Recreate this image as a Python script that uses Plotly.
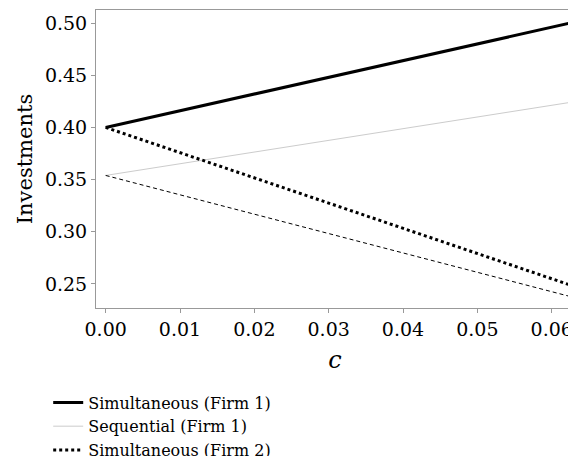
import plotly.graph_objects as go

# values
c = [0.0, 0.0625]
sim_f1 = [0.400, 0.500]
seq_f1 = [0.354, 0.424]
sim_f2 = [0.400, 0.249]
seq_f2 = [0.354, 0.238]
x_ticks = [0.00, 0.01, 0.02, 0.03, 0.04, 0.05, 0.06]
y_ticks = [0.25, 0.30, 0.35, 0.40, 0.45, 0.50]

FONT = "DejaVu Serif"

fig = go.Figure()
fig.add_trace(go.Scatter(x=c, y=sim_f1, mode="lines", name="Simultaneous (Firm 1)",
                         line=dict(color="black", width=3)))
fig.add_trace(go.Scatter(x=c, y=seq_f1, mode="lines", name="Sequential (Firm 1)",
                         line=dict(color="#cccccc", width=1)))
fig.add_trace(go.Scatter(x=c, y=sim_f2, mode="lines", name="Simultaneous (Firm 2)",
                         line=dict(color="black", width=3, dash="dot")))
fig.add_trace(go.Scatter(x=c, y=seq_f2, mode="lines", name="Sequential (Firm 2)",
                         line=dict(color="black", width=1, dash="4px,3px")))

axis = dict(showgrid=False, zeroline=False, showline=True, mirror=True,
            linecolor="#999999", linewidth=1, ticks="outside", ticklen=4,
            tickcolor="#999999", tickfont=dict(size=19, family=FONT, color="black"))
fig.update_xaxes(axis, range=[-0.0013, 0.063], tickvals=x_ticks, tickformat=".2f",
                 automargin=False,
                 title=dict(text="<i>c</i>", font=dict(size=24, family=FONT), standoff=12))
fig.update_yaxes(axis, range=[0.227, 0.5125], tickvals=y_ticks, tickformat=".2f",
                 automargin=False,
                 title=dict(text="Investments", font=dict(size=21, family=FONT), standoff=6))

fig.update_layout(
    width=576, height=456, template="none",
    paper_bgcolor="white", plot_bgcolor="white",
    margin=dict(l=88, r=10, t=2, b=156, autoexpand=False),
    font=dict(family=FONT, color="black"),
    legend=dict(orientation="h", x=0.0, xanchor="left", y=-0.26, yanchor="top",
                xref="paper", entrywidth=265, font=dict(size=16, family=FONT),
                tracegroupgap=0),
)
fig.update_layout(legend_x=-0.1)
fig.write_html("out.html")
